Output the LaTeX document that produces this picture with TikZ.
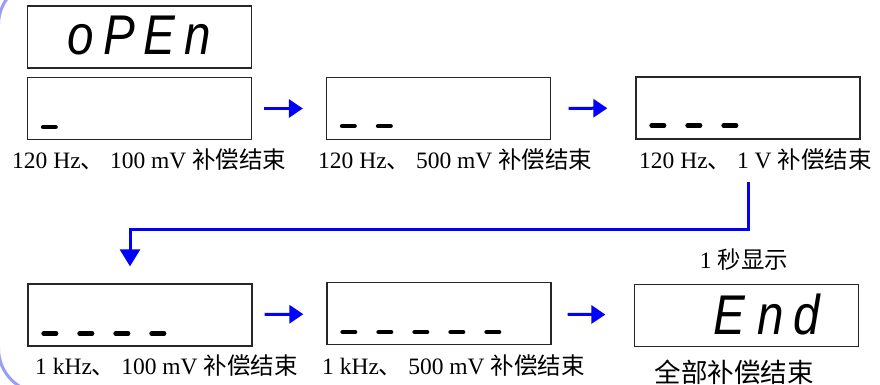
\documentclass[tikz,border=0pt]{standalone}
\usepackage{fontspec}
\setmainfont{Liberation Serif}
\newfontfamily\cjk{Noto Sans CJK SC}
\newfontfamily\segfont{Liberation Sans}[FakeStretch=0.85]
\usetikzlibrary{arrows.meta}
\definecolor{flowblue}{RGB}{0,0,255}
\definecolor{framecol}{RGB}{155,155,250}
\begin{document}
\begin{tikzpicture}[x=1pt,y=-1pt,
  disp/.style={draw=black!85, line width=1.3pt, minimum width=224pt, minimum height=62pt, inner sep=0pt},
  lab/.style={font=\fontsize{23.5}{26}\selectfont, inner sep=0pt, anchor=base west},
  flow/.style={draw=flowblue, line width=3pt, -{Triangle[length=14pt,width=18pt]}},
  seg/.style={font=\segfont\itshape\fontsize{56}{60}\selectfont, inner sep=0pt},
  bar/.style={line width=4.5pt, line cap=round}]
\useasboundingbox (0,0) rectangle (880,385);
\begin{scope}
  \clip (0,0) rectangle (880,385);
  \draw[framecol, line width=3pt, rounded corners=44pt] (-1.5,-19.4) rectangle (1500,392.7);
\end{scope}
% display boxes
\node[disp] (b0) at (139.5,37) {};
\node[disp] (b1) at (139.5,108.5) {};
\node[disp] (b2) at (438.5,108.5) {};
\node[disp] (b3) at (748,108) {};
\node[disp] (b4) at (140,315) {};
\node[disp] (b5) at (439,313.5) {};
\node[disp] (b6) at (746.5,315.5) {};
% display texts
\node[seg] (t0) at (139.5,35.5) {o\kern9pt P\kern9pt E\kern9pt n};
\node[seg] (t6) at (767,314) {E\kern12pt n\kern10pt d};
% dashes
\foreach \i in {0} \draw[bar] ([xshift=16.25pt+36pt*\i, yshift=13pt]b1.south west) -- ++(12.5,0);
\foreach \i in {0,1} \draw[bar] ([xshift=16.25pt+36pt*\i, yshift=14pt]b2.south west) -- ++(12.5,0);
\foreach \i in {0,1,2} \draw[bar] ([xshift=16.25pt+36pt*\i, yshift=14pt]b3.south west) -- ++(12.5,0);
\foreach \i in {0,1,2,3} \draw[bar] ([xshift=16.25pt+36pt*\i, yshift=13pt]b4.south west) -- ++(12.5,0);
\foreach \i in {0,1,2,3,4} \draw[bar] ([xshift=16.25pt+36pt*\i, yshift=13pt]b5.south west) -- ++(12.5,0);
% labels
\node[lab] (l1) at (12,168) {120 Hz{\cjk 、} 100 mV {\cjk 补偿结束}};
\node[lab] (l2) at (318,168) {120 Hz{\cjk 、} 500 mV {\cjk 补偿结束}};
\node[lab] (l3) at (639,168) {120 Hz{\cjk 、} 1 V {\cjk 补偿结束}};
\node[lab] (l4) at (35,374) {1 kHz{\cjk 、} 100 mV {\cjk 补偿结束}};
\node[lab] (l5) at (322,374) {1 kHz{\cjk 、} 500 mV {\cjk 补偿结束}};
\node[font=\fontsize{23.5}{26}\selectfont, inner sep=0pt] (l6) at (744,260) {1 {\cjk 秒显示}};
\node[font=\fontsize{26.5}{30}\selectfont\cjk, inner sep=0pt] (l7) at (734,372) {全部补偿结束};
% arrows
\draw[flow, shorten <=12pt, shorten >=23pt] (b1) -- (b2);
\draw[flow, shorten <=17.5pt, shorten >=28pt] (b2) -- (b3);
\draw[flow, shorten <=12pt, shorten >=23pt] (b4) -- (b5);
\draw[flow, shorten <=16pt, shorten >=28.5pt] (b5) -- (b6);
\coordinate (c0) at (l3.south -| b3.center);
\coordinate (c1) at ([yshift=-12pt]c0);
\coordinate (c2) at ([xshift=-10pt,yshift=17pt]b4.north);
\coordinate (mid) at (0,229);
\draw[flow, -{Triangle[length=17pt,width=20pt]}] (c1) |- (mid -| c2) -- (c2);
\end{tikzpicture}
\end{document}
